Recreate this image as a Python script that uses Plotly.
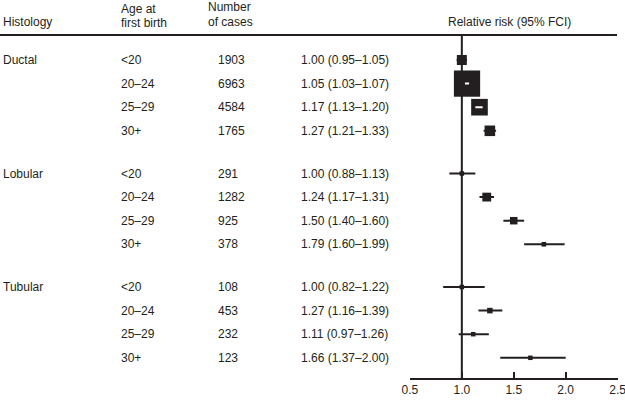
import math
import plotly.graph_objects as go

# ---- data ----
histology = ["Ductal", "Lobular", "Tubular"]
age_groups = ["<20", "20–24", "25–29", "30+"]
cases = [[1903, 6963, 4584, 1765],
         [291, 1282, 925, 378],
         [108, 453, 232, 123]]
rr = [[1.00, 1.05, 1.17, 1.27],
      [1.00, 1.24, 1.50, 1.79],
      [1.00, 1.27, 1.11, 1.66]]
lo = [[0.95, 1.03, 1.13, 1.21],
      [0.88, 1.17, 1.40, 1.60],
      [0.82, 1.16, 0.97, 1.37]]
hi = [[1.05, 1.07, 1.20, 1.33],
      [1.13, 1.31, 1.60, 1.99],
      [1.22, 1.39, 1.26, 2.00]]
x_ticks = [0.5, 1.0, 1.5, 2.0, 2.5]

# ---- layout constants (pixels) ----
W, H = 625, 402
ROW_PX = 23.6
FIRST_ROW_PX = 60
GROUP_STEP = 113.5 / ROW_PX   # in row units
X0_PX, X1_PX = 409.5, 618     # pixel positions of 0.5 and 2.5
AXIS_PX = 379
HEADER_LINE_PX = 35
PX_PER_UNIT = (X1_PX - X0_PX) / (x_ticks[-1] - x_ticks[0])

y_top = -FIRST_ROW_PX / ROW_PX
y_bot = (H - FIRST_ROW_PX) / ROW_PX

def row_y(g, r):
    return g * GROUP_STEP + r

def py(px):
    return (px - FIRST_ROW_PX) / ROW_PX

INK = "#231f20"
FONT = "Liberation Sans, Arial, Helvetica, sans-serif"

fig = go.Figure()
annotations = []

def txt(xpx, y, text, yref="paper", xanchor="left"):
    annotations.append(dict(
        x=xpx / W, xref="paper", y=y, yref=yref, text=text,
        showarrow=False, xanchor=xanchor, yanchor="middle",
        borderpad=0, font=dict(family=FONT, size=12, color=INK)))

# header
txt(2, 1 - 22.5 / H, "Histology")
txt(120, 1 - 9.5 / H, "Age at")
txt(120, 1 - 23 / H, "first birth")
txt(207, 1 - 7.5 / H, "Number")
txt(207, 1 - 22 / H, "of cases")
txt(510, 1 - 22.5 / H, "Relative risk (95% FCI)", xanchor="center")

seg_x, seg_y = [], []
wseg_x, wseg_y = [], []
mx, my, ms = [], [], []
for g, name in enumerate(histology):
    txt(2, row_y(g, 0), name, yref="y")
    for r, age in enumerate(age_groups):
        y = row_y(g, r)
        txt(120, y, age, yref="y")
        txt(217, y, f"{cases[g][r]}", yref="y")
        txt(300, y, f"{rr[g][r]:.2f} ({lo[g][r]:.2f}–{hi[g][r]:.2f})", yref="y")
        seg_x += [lo[g][r], hi[g][r], None]
        seg_y += [y, y, None]
        size = max(1.0 / math.log(hi[g][r] / lo[g][r]), 4.5)
        mx.append(rr[g][r]); my.append(y); ms.append(size)
        half = size / 2 / PX_PER_UNIT
        a = max(lo[g][r], rr[g][r] - half + 0.01)
        b = min(hi[g][r], rr[g][r] + half - 0.01)
        if size > 12 and b > a:
            wseg_x += [a, b, None]
            wseg_y += [y, y, None]

fig.add_trace(go.Scatter(x=seg_x, y=seg_y, mode="lines",
                         line=dict(color=INK, width=2), hoverinfo="skip",
                         showlegend=False, cliponaxis=False))
fig.add_trace(go.Scatter(x=mx, y=my, mode="markers",
                         marker=dict(symbol="square", size=ms, color=INK,
                                     opacity=1, line=dict(width=0)),
                         showlegend=False, cliponaxis=False))
fig.add_trace(go.Scatter(x=wseg_x, y=wseg_y, mode="lines",
                         line=dict(color="white", width=2), hoverinfo="skip",
                         showlegend=False, cliponaxis=False))

shapes = [
    dict(type="line", xref="paper", yref="y", x0=0, x1=617 / W,
         y0=py(HEADER_LINE_PX), y1=py(HEADER_LINE_PX),
         line=dict(color=INK, width=2)),
    dict(type="line", xref="x", yref="y", x0=1.0, x1=1.0,
         y0=py(HEADER_LINE_PX), y1=py(AXIS_PX),
         line=dict(color=INK, width=2), layer="below"),
]

EPS = 0.004
fig.update_layout(
    width=W, height=H,
    margin=dict(l=0, r=0, t=0, b=0, autoexpand=False),
    paper_bgcolor="white", plot_bgcolor="rgba(0,0,0,0)",
    showlegend=False,
    annotations=annotations,
    shapes=shapes,
    xaxis=dict(domain=[X0_PX / W, X1_PX / W],
               range=[x_ticks[0] - EPS, x_ticks[-1] + EPS],
               anchor="free", position=(H - AXIS_PX) / H,
               showline=True, linecolor=INK, linewidth=2,
               ticks="inside", ticklen=6, tickwidth=2, tickcolor=INK,
               tickvals=x_ticks, ticktext=[f"{v:.1f}" for v in x_ticks],
               tickfont=dict(family=FONT, size=12, color=INK),
               ticklabeloverflow="allow",
               automargin=False,
               showgrid=False, zeroline=False, fixedrange=True),
    yaxis=dict(domain=[0, 1], range=[y_bot, y_top], visible=False,
               automargin=False,
               showgrid=False, zeroline=False, fixedrange=True),
)

fig.write_html(
    "out.html",
    config={"displayModeBar": False, "staticPlot": True},
    post_script="document.body.style.margin='0';document.body.style.overflow='hidden';",
)
